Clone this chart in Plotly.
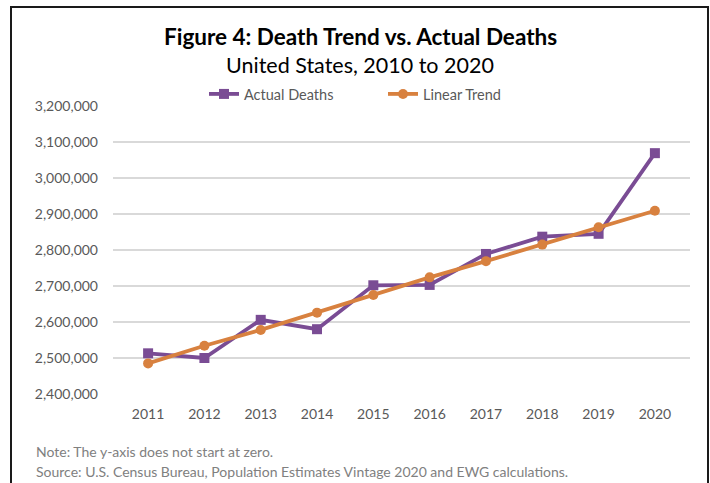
import plotly.graph_objects as go

years = ["2011", "2012", "2013", "2014", "2015", "2016", "2017", "2018", "2019", "2020"]
actual_deaths = [2513000, 2500000, 2606000, 2580000, 2702000, 2703000, 2789000, 2837000, 2845000, 3069000]
linear_trend = [2485000, 2534000, 2578000, 2626000, 2675000, 2724000, 2769000, 2815000, 2863000, 2909000]
y_ticks = [2400000, 2500000, 2600000, 2700000, 2800000, 2900000, 3000000, 3100000, 3200000]

PURPLE = "#7A4C94"
ORANGE = "#D8813F"
FONT = "Lato"
GRAY = "#595959"

W, H = 710, 483
L, R, T, B = 113, 20, 106, 89
pw, ph = W - L - R, H - T - B

def px(x):
    return (x - L) / pw

def py(y):
    return (H - B - y) / ph

fig = go.Figure()
fig.add_trace(go.Scatter(
    x=years, y=actual_deaths, name="Actual Deaths", mode="lines+markers",
    line=dict(color=PURPLE, width=3.8),
    marker=dict(symbol="square", size=10, color=PURPLE),
))
fig.add_trace(go.Scatter(
    x=years, y=linear_trend, name="Linear Trend", mode="lines+markers",
    line=dict(color=ORANGE, width=3.8),
    marker=dict(symbol="circle", size=10, color=ORANGE),
))

fig.update_layout(
    width=W, height=H,
    margin=dict(l=L, r=R, t=T, b=B, pad=0),
    paper_bgcolor="white", plot_bgcolor="white",
    font=dict(family=FONT, size=14, color=GRAY),
    showlegend=True,
    legend=dict(orientation="h", x=px(383), xanchor="center", y=py(94), yanchor="middle",
                font=dict(family=FONT, size=14.5, color=GRAY), bgcolor="rgba(0,0,0,0)",
                itemwidth=30, tracegroupgap=0, entrywidth=134),
    xaxis=dict(type="category", showgrid=False, showline=False, ticks="",
               tickfont=dict(family=FONT, size=14, color=GRAY), ticklabelstandoff=10,
               fixedrange=True),
    yaxis=dict(range=[2400000, 3200000], tickvals=y_ticks,
               ticktext=[f"{v:,}" for v in y_ticks],
               showgrid=True, gridcolor="#D9D9D9", gridwidth=1.5, zeroline=False,
               showline=False, ticks="", ticklabelstandoff=14,
               tickfont=dict(family=FONT, size=14, color=GRAY)),
    annotations=[
        dict(text="<b>Figure 4: Death Trend vs. Actual Deaths</b>", x=px(360), y=py(36),
             xref="paper", yref="paper", xanchor="center", yanchor="middle", showarrow=False,
             font=dict(family=FONT, size=22.5, color="black")),
        dict(text="United States, 2010 to 2020", x=px(360), y=py(65),
             xref="paper", yref="paper", xanchor="center", yanchor="middle", showarrow=False,
             font=dict(family=FONT, size=21.5, color="black")),
        dict(text="Note: The y-axis does not start at zero.", x=px(34), y=py(451),
             xref="paper", yref="paper", xanchor="left", yanchor="middle", showarrow=False,
             font=dict(family=FONT, size=14, color="#808080")),
        dict(text="Source: U.S. Census Bureau, Population Estimates Vintage 2020 and EWG calculations.",
             x=px(34), y=py(471),
             xref="paper", yref="paper", xanchor="left", yanchor="middle", showarrow=False,
             font=dict(family=FONT, size=14, color="#808080")),
    ],
    shapes=[
        dict(type="path", xref="paper", yref="paper",
             path=f"M {px(11)} {py(500)} L {px(11)} {py(7)} L {px(708)} {py(7)} L {px(708)} {py(500)}",
             line=dict(color="#1a1a1a", width=2)),
    ],
)

fig.write_html("out.html")
